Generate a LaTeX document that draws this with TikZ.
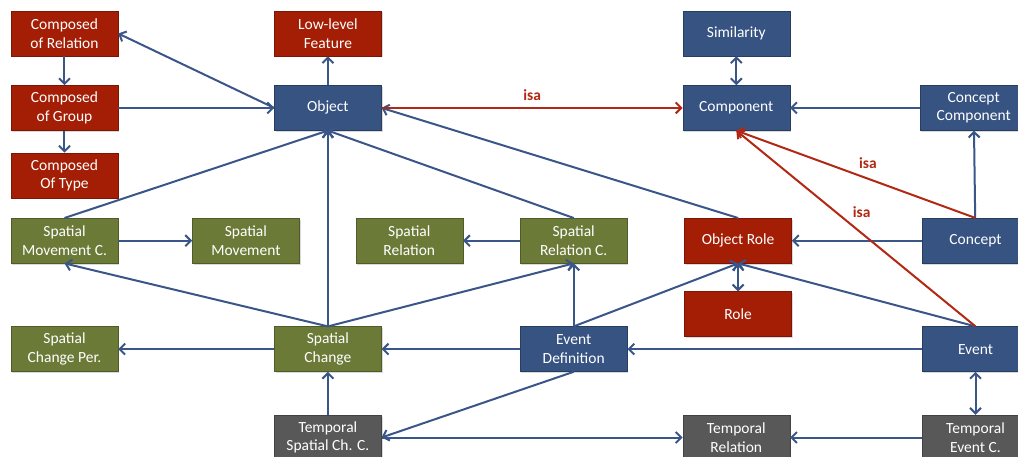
\documentclass[tikz,border=0pt]{standalone}
\usepackage{fontspec}
\setmainfont{Carlito}
\usepackage{tikz}
\usetikzlibrary{arrows.meta, positioning, calc, shadows}

\definecolor{redc}{RGB}{163,30,4}
\definecolor{bluec}{RGB}{54,83,130}
\definecolor{greenc}{RGB}{108,122,56}
\definecolor{grayc}{RGB}{88,88,88}
\definecolor{edgeblue}{RGB}{58,86,136}
\definecolor{edgered}{RGB}{178,40,20}
\newcommand{\boxfont}{\fontsize{15.5}{18.5}\selectfont}

\begin{document}
\begin{tikzpicture}[
		box/.style={fill=#1, draw=#1!75!black, text=white, minimum width=107pt,
			minimum height=45pt, inner sep=2pt, align=center, font=\boxfont,
			drop shadow={shadow xshift=1.2pt, shadow yshift=-1.5pt, opacity=0.3}},
		arr/.style={-{Straight Barb[length=5.5pt,width=11pt]}, line width=2pt, draw=edgeblue},
		darr/.style={{Straight Barb[length=5.5pt,width=11pt]}-{Straight Barb[length=5.5pt,width=11pt]}, line width=2pt, draw=edgeblue},
		isa/.style={-{Straight Barb[length=5.5pt,width=11pt]}, line width=2pt, draw=edgered},
		lbl/.style={text=edgered, font=\boxfont\bfseries}
		]
		% page frame, cor sits at the origin
		\useasboundingbox (-64.5pt,33.5pt) rectangle ++(1018pt,-457pt);
		
		% left column
		\node[box=redc]                       (cor)  {Composed\\of Relation};
		\node[box=redc,   below=29pt of cor]  (cog)  {Composed\\of Group};
		\node[box=redc,   below=22pt of cog]  (cot)  {Composed\\Of Type};
		\node[box=greenc, below=20pt of cot]  (smc)  {Spatial\\Movement C.};
		\node[box=greenc, below=63pt of smc]  (scp)  {Spatial\\Change Per.};
		% object column
		\node[box=bluec,  right=156pt of cog] (obj)  {Object};
		\node[box=redc,   above=29pt of obj]  (llf)  {Low-level\\Feature};
		\node[box=greenc, right=74pt of smc]  (smv)  {Spatial\\Movement};
		\node[box=greenc, right=156pt of scp] (sc)   {Spatial\\Change};
		\node[box=grayc,  below=43pt of sc]   (tscc) {Temporal\\Spatial Ch. C.};
		% middle
		\node[box=greenc, right=56pt of smv]  (sr)   {Spatial\\Relation};
		\node[box=greenc, right=57pt of sr]   (src)  {Spatial\\Relation C.};
		\node[box=bluec,  below=63pt of src]  (evd)  {Event\\Definition};
		\node[box=bluec,  right=301pt of obj] (comp) {Component};
		\node[box=bluec,  above=29pt of comp] (sim)  {Similarity};
		\node[box=redc,   right=57pt of src]  (orole) {Object Role};
		\node[box=redc,   below=28pt of orole] (role) {Role};
		\node[box=grayc,  right=301pt of tscc] (trel) {Temporal\\Relation};
		% right column
		\node[box=bluec,  right=130pt of comp]  (ccomp) {Concept\\Component};
		\node[box=bluec,  right=130pt of orole] (concept) {Concept};
		\node[box=bluec,  below=63pt of concept] (event) {Event};
		\node[box=grayc,  below=43pt of event]  (tevc) {Temporal\\Event C.};
		
		% object links
		\draw[arr] (obj.west) -- (cor.east);
		\draw[arr] (cog.east) -- (obj.west);
		\draw[arr] (cor) -- (cog);
		\draw[arr] (cog) -- (cot);
		\draw[arr] (obj) -- (llf);
		\draw[arr] (smc.north) -- (obj.south);
		\draw[arr] (sc.north)  -- (obj.south);
		\draw[arr] (src.north) -- (obj.south);
		\draw[arr] (orole.north) -- (obj.east);
		% spatial
		\draw[arr] (smc) -- (smv);
		\draw[arr] (src) -- (sr);
		\draw[arr] (sc.north) -- (smc.south);
		\draw[arr] (sc.north) -- (src.south);
		\draw[arr] (sc) -- (scp);
		\draw[arr] (tscc) -- (sc);
		% events
		\draw[arr] (evd.north) -- (src.south);
		\draw[arr] (evd.north) -- (orole.south);
		\draw[arr] (event.north) -- (orole.south);
		\draw[arr] (event) -- (evd);
		\draw[arr] (evd) -- (sc);
		\draw[arr] (evd.south) -- (tscc.east);
		\draw[arr] (tscc) -- (trel);
		\draw[arr] (tevc) -- (trel);
		\draw[darr] (event) -- (tevc);
		\draw[darr] (orole) -- (role);
		% concepts
		\draw[arr] (concept) -- (orole);
		\draw[arr] (concept) -- (ccomp);
		\draw[arr] (ccomp) -- (comp);
		\draw[darr] (sim) -- (comp);
		% isa
		\draw[isa] (obj) -- node[lbl, yshift=13pt]{isa} (comp);
		\draw[isa] (concept.north) -- node[lbl, pos=0.45, yshift=16pt]{isa} (comp.south);
		\draw[isa] (event.north) -- node[lbl, pos=0.585, xshift=26pt]{isa} (comp.south);
	\end{tikzpicture}
\end{document}
